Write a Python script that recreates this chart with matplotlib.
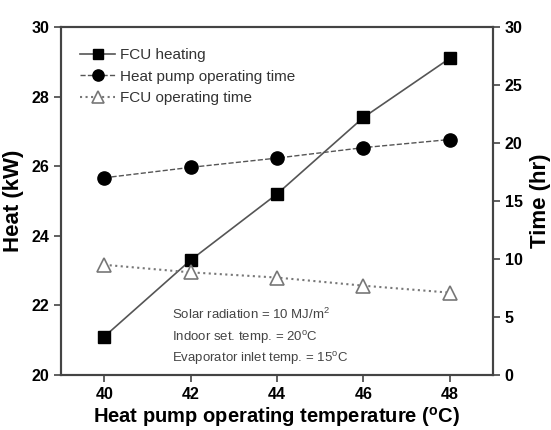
import matplotlib
matplotlib.use("Agg")
import matplotlib.pyplot as plt

plt.rcParams['font.family'] = ['Liberation Sans', 'DejaVu Sans']
plt.rcParams['mathtext.fontset'] = 'custom'
plt.rcParams['mathtext.rm'] = 'Liberation Sans'
plt.rcParams['mathtext.bf'] = 'Liberation Sans:bold'

temps = [40, 42, 44, 46, 48]
fcu_heating = [21.1, 23.3, 25.2, 27.4, 29.1]
hp_time = [17.0, 17.9, 18.7, 19.6, 20.3]
fcu_time = [9.5, 8.85, 8.4, 7.7, 7.1]

left_ticks = [20, 22, 24, 26, 28, 30]
right_ticks = [0, 5, 10, 15, 20, 25, 30]

fig = plt.figure(figsize=(5.51, 4.30), dpi=100)
ax = fig.add_axes([0.1107, 0.1279, 0.7840, 0.8093])
ax2 = ax.twinx()

lc = '#555555'
l1, = ax.plot(temps, fcu_heating, '-', color=lc, lw=1.2, marker='s', ms=8.5,
              mfc='black', mec='black', label='FCU heating')
l2, = ax2.plot(temps, hp_time, '--', color=lc, lw=1.0, marker='o', ms=9.5,
               mfc='black', mec='black', label='Heat pump operating time')
l3, = ax2.plot(temps, fcu_time, ':', color='#777777', lw=1.5, marker='^', ms=9.5,
               mfc='white', mec='#777777', mew=1.2, label='FCU operating time')

ax.set_xlim(39, 49)
ax.set_ylim(20, 30)
ax2.set_ylim(0, 30)
ax.set_xticks(temps)
ax.set_yticks(left_ticks)
ax2.set_yticks(right_ticks)

for a in (ax, ax2):
    for s in a.spines.values():
        s.set_color('#444444')
        s.set_linewidth(1.5)
    a.tick_params(direction='out', length=5, width=1.2, color='#444444',
                  labelsize=11.5)
    for lab in a.get_xticklabels() + a.get_yticklabels():
        lab.set_fontweight('bold')

ax.set_xlabel('Heat pump operating temperature ($\\mathbf{^{o}}$C)',
              fontsize=14.5, fontweight='bold', labelpad=2)
ax.set_ylabel('Heat (kW)', fontsize=16, fontweight='bold', labelpad=5)
ax2.set_ylabel('Time (hr)', fontsize=16, fontweight='bold', labelpad=5)

leg = ax.legend(handles=[l1, l2, l3], loc='upper left', frameon=False,
                fontsize=11, handlelength=2.3, handletextpad=0.3,
                labelspacing=0.5, borderpad=0, borderaxespad=0,
                bbox_to_anchor=(0.044, 0.94), markerscale=0.85)
for t in leg.get_texts():
    t.set_color('#333333')

notes = ['Solar radiation = 10 MJ/m$^2$',
         'Indoor set. temp. = 20$^{\\rm o}$C',
         'Evaporator inlet temp. = 15$^{\\rm o}$C']
ys = [0.175, 0.109, 0.046]
for n, y in zip(notes, ys):
    ax.text(0.257, y, n, transform=ax.transAxes, fontsize=9.5, color='#444444',
            va='center', ha='left')

fig.savefig('out.png', dpi=100)
